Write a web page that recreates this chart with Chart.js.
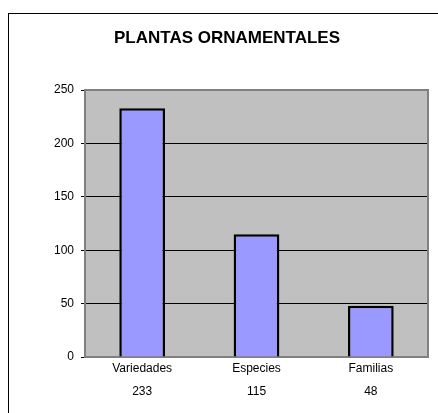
<!DOCTYPE html>
<html>
<head>
<meta charset="utf-8">
<script src="https://cdn.jsdelivr.net/npm/chart.js@4"></script>
<style>
  html, body { margin: 0; padding: 0; background: #fff; }
  canvas { display: block; }
</style>
</head>
<body>
<canvas id="myChart" width="438" height="413"></canvas>
<script>
const categories = ['Variedades', 'Especies', 'Familias'];
const values = [233, 115, 48];
const yTicks = [0, 50, 100, 150, 200, 250];

// fondo gris del area de trazado y marco exterior
const excelLook = {
    id: 'excelLook',
    beforeDraw(chart) {
        const ctx = chart.ctx;
        const a = chart.chartArea;
        ctx.save();
        ctx.strokeStyle = '#000';
        ctx.lineWidth = 1;
        ctx.strokeRect(8.5, 13.5, 500, 500);
        ctx.fillStyle = '#C0C0C0';
        ctx.fillRect(a.left, a.top, a.right - a.left, a.bottom - a.top);
        ctx.restore();
    },
    beforeDatasetsDraw(chart) {
        const ctx = chart.ctx;
        const a = chart.chartArea;
        ctx.save();
        ctx.strokeStyle = '#808080';
        ctx.lineWidth = 2;
        ctx.strokeRect(a.left, a.top, a.right - a.left, a.bottom - a.top);
        ctx.restore();
    }
};

let myChart = document.getElementById('myChart').getContext('2d');
let barChart = new Chart(myChart, {
    type: 'bar',
    data: {
        labels: categories.map((c, i) => [c, String(values[i])]),
        datasets: [{
            data: values,
            backgroundColor: '#9999FF',
            borderColor: '#000',
            borderWidth: 2.5,
            barPercentage: 0.4,
            categoryPercentage: 1
        }]
    },
    options: {
        responsive: false,
        animation: false,
        layout: { padding: { left: 26, right: 10, top: 0, bottom: 0 } },
        plugins: {
            legend: { display: false },
            tooltip: { enabled: false },
            title: {
                display: true,
                text: 'PLANTAS ORNAMENTALES',
                color: '#000',
                font: { family: 'Arial, "Liberation Sans"', size: 17, weight: 'bold', lineHeight: 1.2 },
                padding: { top: 28, bottom: 41.6 }
            }
        },
        scales: {
            y: {
                min: 0,
                max: 250,
                afterFit(scale) { scale.width = 59; },
                afterBuildTicks(scale) { scale.ticks = yTicks.map(v => ({ value: v })); },
                border: { display: false },
                grid: {
                    color: ctx => (ctx.tick && (ctx.tick.value === 0 || ctx.tick.value === 250)) ? 'rgba(0,0,0,0)' : '#000',
                    tickColor: '#000',
                    tickLength: 4,
                    lineWidth: 1
                },
                ticks: {
                    color: '#000',
                    padding: 7,
                    font: { family: 'Arial, "Liberation Sans"', size: 12 }
                }
            },
            x: {
                afterFit(scale) { scale.height = 56; },
                border: { display: false },
                grid: { display: false, drawTicks: false },
                ticks: {
                    color: '#000',
                    padding: 1,
                    maxRotation: 0,
                    font: { family: 'Arial, "Liberation Sans"', size: 12, lineHeight: 1.85 }
                }
            }
        }
    },
    plugins: [excelLook]
});
</script>
</body>
</html>
